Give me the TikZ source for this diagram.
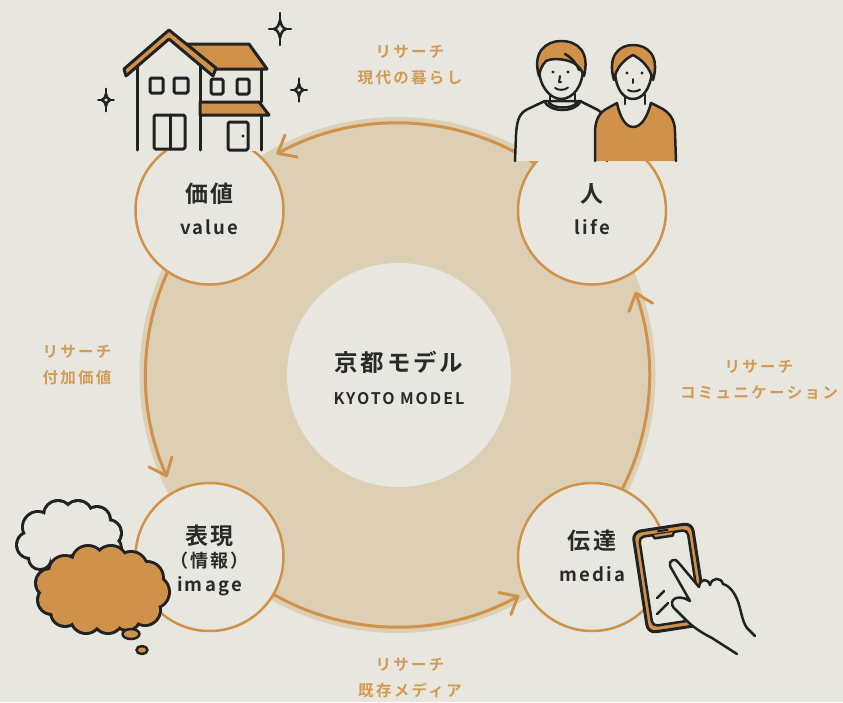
\documentclass[tikz,border=0pt]{standalone}
\usepackage{fontspec}
\usetikzlibrary{arrows.meta}
\newfontfamily\jpfont{Noto Sans CJK JP}[BoldFont={Noto Sans CJK JP Bold},LetterSpace=12]
\newfontfamily\jpwide{Noto Sans CJK JP}[BoldFont={Noto Sans CJK JP Bold},LetterSpace=15]
\definecolor{paper}{HTML}{E8E7DF}
\definecolor{sand}{HTML}{DDCFB4}
\definecolor{ochre}{HTML}{D0924A}
\definecolor{ochretext}{HTML}{D49A55}
\definecolor{ink}{HTML}{222222}
\definecolor{textdark}{HTML}{2A2A2A}
\begin{document}
\begin{tikzpicture}[x=1pt,y=-1pt,
  disk/.style={circle, fill=sand, minimum size=516pt, inner sep=0pt},
  hub/.style={circle, fill=paper, minimum size=224pt, inner sep=0pt},
  stage/.style={circle, draw=ochre, line width=2.5pt, fill=paper, minimum size=148pt, inner sep=0pt},
  flow/.style={draw=ochre, line width=3pt, line cap=round,
    -{Straight Barb[length=15pt,width=25pt,line cap=round,line join=round]}},
  head/.style={font=\jpfont\bfseries\fontsize{23}{26}\selectfont, text=textdark, inner sep=0pt},
  sub/.style={font=\jpfont\bfseries\fontsize{18.5}{22}\selectfont, text=textdark, inner sep=0pt},
  note/.style={font=\jpwide\bfseries\fontsize{15.5}{26}\selectfont, text=ochretext, align=center, inner sep=0pt},
  pen/.style={draw=ink, line width=3pt, line join=round, line cap=round},
  thinpen/.style={draw=ink, line width=2.5pt, line join=round, line cap=round},
  twinkle/.pic={
    \draw[thinpen] (0,-9) .. controls (1.2,-3.5) and (2.5,-1.2) .. (6,0)
      .. controls (2.5,1.2) and (1.2,3.5) .. (0,9)
      .. controls (-1.2,3.5) and (-2.5,1.2) .. (-6,0)
      .. controls (-2.5,-1.2) and (-1.2,-3.5) .. cycle;
    \draw[thinpen] (0,-9) -- (0,-16) (0,9) -- (0,16) (6,0) -- (11,0) (-6,0) -- (-11,0);
  }]
\useasboundingbox (0,0) rectangle (843,702);
\fill[paper] (0,0) rectangle (843,702);

% the cycle disk and its four research arrows
\node[disk] (ring) at (397.5,375) {};
\draw[flow] (ring.center) ++(-57:252) arc[start angle=-57, end angle=-118.7, radius=252];
\draw[flow] (ring.center) ++(-150:252) arc[start angle=-150, end angle=-203.9, radius=252];
\draw[flow] (ring.center) ++(-235:252) arc[start angle=-235, end angle=-298.9, radius=252];
\draw[flow] (ring.center) ++(-325:252) arc[start angle=-325, end angle=-379.3, radius=252];

% centre
\node[hub] (core) at (399,375) {};
\node[head, font=\jpfont\bfseries\fontsize{23.5}{26}\selectfont] (coreJP) at (399,362) {京都モデル};
\node[sub, font=\jpfont\bfseries\fontsize{16}{20}\selectfont] (coreEN) at (399,399) {KYOTO MODEL};

% four stages
\node[stage] (value) at (209.5,210.5) {};
\node[head] (valueJP) at (209.5,194) {価値};
\node[sub] (valueEN) at (209.5,227) {value};

\node[stage] (life) at (592,210.5) {};
\node[head] (lifeJP) at (592,194) {人};
\node[sub] (lifeEN) at (592,227) {life};

\node[stage] (image) at (209.5,557) {};
\node[head] (imageJP) at (209.5,536) {表現};
\node[sub, font=\jpfont\bfseries\fontsize{18}{22}\selectfont] (imageSub) at (209.5,561) {（情報）};
\node[sub] (imageEN) at (209.5,586) {image};

\node[stage] (media) at (592,557) {};
\node[head] (mediaJP) at (592,541) {伝達};
\node[sub] (mediaEN) at (592,574) {media};

% house
\fill[paper] (136,62) rectangle (262,151);
\filldraw[pen, fill=ochre] (180,44) -- (249,44) -- (267,69) -- (210,69) -- cycle;
\filldraw[pen, fill=ochre] (124,69) -- (169,30) -- (216,68) -- (213,76) -- (169,39) -- (126,76) -- cycle;
\draw[pen] (137,67) -- (137,150);
\draw[pen] (200,65) -- (200,150);
\draw[pen] (261,69) -- (261,102);
\draw[pen] (261,115) -- (261,150);
\filldraw[pen, fill=ochre] (200,102) -- (259,102) -- (269,115) -- (200,115) -- cycle;
\draw[pen, rounded corners=1.5pt] (150,78) rectangle (163,93);
\draw[pen, rounded corners=1.5pt] (174,78) rectangle (188,93);
\draw[pen, rounded corners=1.5pt] (211,79) rectangle (223,94);
\draw[pen, rounded corners=1.5pt] (237,79) rectangle (249,94);
\draw[pen, rounded corners=1.5pt] (154,115) rectangle (185,149);
\draw[pen] (170,115) -- (170,149);
\draw[pen, rounded corners=1.5pt] (228,122) rectangle (248,150);
\fill[ink] (243,136) circle[radius=1.6];

% sparkles
\pic at (280,29) {twinkle};
\pic[scale=0.72] at (299,90) {twinkle};
\pic[scale=0.7] at (106,100) {twinkle};

% people: man
\filldraw[thinpen, fill=paper] (515,161) -- (516,135) .. controls (517,118) and (520,112) .. (530,108)
  -- (545,101) -- (580,101) -- (598,110) .. controls (603,113) and (606,118) .. (607,126) -- (607,161);
\draw[thinpen] (544,101) .. controls (550,113) and (575,113) .. (581,101);
\draw[thinpen] (549,103) .. controls (555,109) and (571,109) .. (577,103);
\draw[thinpen] (550,94) -- (550,102);
\draw[thinpen] (575,94) -- (575,102);
\filldraw[thinpen, fill=paper] (539,68) .. controls (539,86) and (550,99) .. (561,99)
  .. controls (573,99) and (583,86) .. (583,68);
\filldraw[thinpen, fill=ochre] (539,76) .. controls (532,52) and (546,41) .. (561,41)
  .. controls (578,41) and (590,52) .. (584,76)
  .. controls (581,68) and (576,63) .. (569,61)
  .. controls (562,59) and (552,58) .. (546,61)
  .. controls (542,65) and (540,70) .. cycle;
\draw[thinpen] (565,54) .. controls (572,58) and (577,64) .. (579,70);
\fill[ink] (553,72) circle[radius=1.7];
\fill[ink] (568,72) circle[radius=1.7];
\draw[thinpen, line width=2pt] (560,76) -- (559,82) -- (561,82);
\draw[thinpen, line width=2pt] (555,88) .. controls (558,90.5) and (565,90.5) .. (568,87.5);

% people: woman
\filldraw[thinpen, fill=ochre] (595,161) -- (595,130) .. controls (596,118) and (600,112) .. (608,108)
  -- (617,103) .. controls (620,118) and (626,127) .. (633,127)
  .. controls (641,127) and (647,118) .. (651,103)
  -- (659,107) .. controls (670,112) and (675,120) .. (675,132) -- (676,161);
\draw[thinpen] (625,95) -- (625,104);
\draw[thinpen] (645,95) -- (645,104);
\filldraw[thinpen, fill=paper] (615,72) .. controls (616,90) and (624,99) .. (633,99)
  .. controls (642,99) and (650,90) .. (652,72);
\filldraw[thinpen, fill=ochre] (614,80) .. controls (607,56) and (619,45) .. (633,45)
  .. controls (648,45) and (660,56) .. (653,80)
  .. controls (650,67) and (641,59) .. (633,55)
  .. controls (625,59) and (616,67) .. cycle;
\fill[ink] (627,73) circle[radius=1.7];
\fill[ink] (642,73) circle[radius=1.7];
\draw[thinpen, line width=2pt] (633,79) -- (633,83);
\draw[thinpen, line width=2pt] (628,90) .. controls (631,92) and (637,92) .. (640,89.5);

% thought bubbles: scalloped outlines from overlapping bumps
\def\whitebumps{38/527/14, 58/515/13, 78/515/13, 97/520/12, 108/533/12, 110/548/10,
                85/552/10, 60/556/10, 40/558/10, 30/545/12}
\def\orangebumps{65/572/15, 88/562/15, 111/562/15, 131/568/15, 147/578/15, 153/592/15,
                 145/610/14, 127/617/12, 108/618/14, 86/618/14, 65/612/13, 52/600/13, 50/583/13}
\foreach \cx/\cy/\r in \whitebumps \fill[ink] (\cx,\cy) circle[radius=\r+3];
\foreach \cx/\cy/\r in \whitebumps \fill[paper] (\cx,\cy) circle[radius=\r];
\fill[paper] (38,527) -- (58,515) -- (78,515) -- (97,520) -- (108,533) -- (110,548)
  -- (85,552) -- (60,556) -- (40,558) -- (30,545) -- cycle;
\foreach \cx/\cy/\r in \orangebumps \fill[ink] (\cx,\cy) circle[radius=\r+3];
\foreach \cx/\cy/\r in \orangebumps \fill[ochre] (\cx,\cy) circle[radius=\r];
\fill[ochre] (65,572) -- (88,562) -- (111,562) -- (131,568) -- (147,578) -- (153,592)
  -- (145,610) -- (127,617) -- (108,618) -- (86,618) -- (65,612) -- (52,600) -- (50,583) -- cycle;
\filldraw[thinpen, fill=ochre] (131,634) ellipse[x radius=8.5, y radius=5];
\filldraw[thinpen, fill=ochre] (142,650) ellipse[x radius=5.5, y radius=4];

% smartphone
\begin{scope}[shift={(670,578)}, rotate=8.7]
  \filldraw[pen, fill=ochre, rounded corners=8pt] (-30,-51) rectangle (30,51);
  \filldraw[thinpen, fill=paper, rounded corners=5pt] (-24.5,-45) rectangle (24.5,45);
  \filldraw[thinpen, fill=ochre] (-11,-45) -- (-9,-41.5) -- (9,-41.5) -- (11,-45);
  \draw[thinpen, line width=2pt] (-5,-48) -- (5,-48);
\end{scope}

% hand
\filldraw[thinpen, fill=paper] (755,636) -- (747,628)
  .. controls (741,620) and (741,605) .. (735,595)
  .. controls (731,588) and (727,585) .. (723,584)
  .. controls (721,577) and (712,577) .. (710,585)
  .. controls (708,578) and (700,578) .. (699,587)
  -- (678,562)
  .. controls (676,558) and (668,560) .. (670,566)
  -- (690,601)
  .. controls (684,597) and (676,596) .. (673,600)
  .. controls (671,603) and (672,607) .. (676,610)
  -- (686,620)
  .. controls (692,626) and (700,632) .. (712,638)
  -- (737,654);
\draw[thinpen] (657,598) -- (664,591);
\draw[thinpen] (657,614) -- (668,603);

% research labels
\node[note] (noteTop) at (410,65) {リサーチ\\現代の暮らし};
\node[note] (noteLeft) at (77,365) {リサーチ\\付加価値};
\node[note] (noteRight) at (759,380) {リサーチ\\コミュニケーション};
\node[note] (noteBottom) at (410,678.5) {リサーチ\\既存メディア};
\end{tikzpicture}
\end{document}
